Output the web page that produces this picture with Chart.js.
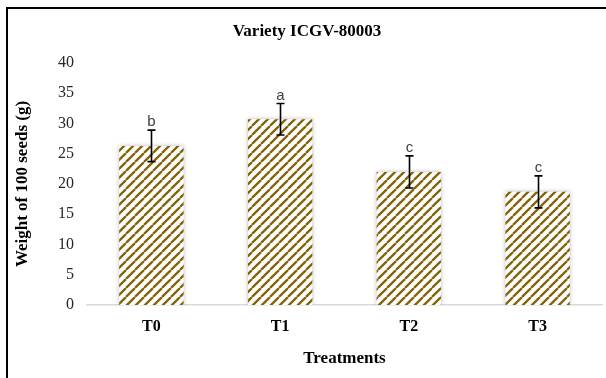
<!DOCTYPE html>
<html>
<head>
<meta charset="utf-8">
<script src="https://cdn.jsdelivr.net/npm/chart.js@4/dist/chart.umd.min.js"></script>
<style>
    html, body { margin: 0; padding: 0; background: #fff; overflow: hidden; }
    #wrap { position: relative; width: 606px; height: 378px; }
    #frame { position: absolute; left: 6px; top: 7px; width: 700px; height: 500px; border: 2px solid #000; }
    #chart { position: absolute; left: 0; top: 0; }
</style>
</head>
<body>
<div id="wrap">
    <div id="frame"></div>
    <canvas id="chart" width="606" height="378"></canvas>
</div>
<script>
const treatments = ['T0', 'T1', 'T2', 'T3'];
const seedWeight = [26.3, 30.7, 22.0, 18.7];
const seedError = [2.6, 2.6, 2.65, 2.65];
const groupLetters = ['b', 'a', 'c', 'c'];
const yMin = 0;
const yMax = 40;
const yStep = 5;

// diagonal hatch like Excel's "wide upward diagonal"
function makeHatch(color) {
    const size = 9;
    const tile = document.createElement('canvas');
    tile.width = size;
    tile.height = size;
    const t = tile.getContext('2d');
    t.fillStyle = '#fff';
    t.fillRect(0, 0, size, size);
    t.strokeStyle = color;
    t.lineWidth = 2.3;
    t.beginPath();
    for (let k = -1; k <= 1; k++) {
        t.moveTo(k * size, size);
        t.lineTo(k * size + size, 0);
    }
    t.stroke();
    return t.createPattern(tile, 'repeat');
}

const errorBars = {
    id: 'errorBars',
    beforeDatasetsDraw(chart) {
        const ctx = chart.ctx;
        ctx.save();
        ctx.shadowColor = 'rgba(0, 0, 0, 0.28)';
        ctx.shadowBlur = 4;
    },
    afterDatasetsDraw(chart) {
        const ctx = chart.ctx;
        ctx.restore();
        const y = chart.scales.y;
        const meta = chart.getDatasetMeta(0);
        ctx.save();
        ctx.strokeStyle = '#000';
        ctx.lineWidth = 1.6;
        ctx.font = '15px "Liberation Sans", Arial, sans-serif';
        ctx.fillStyle = '#404040';
        ctx.textAlign = 'center';
        ctx.textBaseline = 'alphabetic';
        meta.data.forEach((bar, i) => {
            const x = Math.round(bar.x) + 0.5;
            const top = y.getPixelForValue(seedWeight[i] + seedError[i]);
            const bottom = y.getPixelForValue(seedWeight[i] - seedError[i]);
            ctx.beginPath();
            ctx.moveTo(x, top);
            ctx.lineTo(x, bottom);
            ctx.moveTo(x - 4, top);
            ctx.lineTo(x + 4, top);
            ctx.moveTo(x - 4, bottom);
            ctx.lineTo(x + 4, bottom);
            ctx.stroke();
            ctx.fillText(groupLetters[i], x, top - 4);
        });
        ctx.restore();
    }
};

const ctx = document.getElementById('chart').getContext('2d');

new Chart(ctx, {
    type: 'bar',
    data: {
        labels: treatments,
        datasets: [{
            data: seedWeight,
            backgroundColor: makeHatch('#846408'),
            borderWidth: 0,
            categoryPercentage: 0.5,
            barPercentage: 1.0
        }]
    },
    options: {
        responsive: false,
        animation: false,
        layout: {
            padding: { top: 8, left: 12, right: 4, bottom: 0 }
        },
        plugins: {
            legend: { display: false },
            tooltip: { enabled: false },
            title: {
                display: true,
                text: 'Variety ICGV-80003',
                color: '#000',
                font: { family: '"Liberation Serif", "Times New Roman", serif', size: 17, weight: 'bold' },
                padding: { top: 13, bottom: 21.6 }
            }
        },
        scales: {
            x: {
                grid: { display: false, drawTicks: false },
                border: { display: true, color: '#d9d9d9', width: 1.5 },
                ticks: {
                    color: '#000',
                    padding: 12,
                    font: { family: '"Liberation Serif", "Times New Roman", serif', size: 16, weight: 'bold' }
                },
                title: {
                    display: true,
                    text: 'Treatments',
                    color: '#000',
                    font: { family: '"Liberation Serif", "Times New Roman", serif', size: 17, weight: 'bold' },
                    padding: { top: 0, bottom: 9 }
                },
                afterFit(axis) { axis.height = 73; }
            },
            y: {
                min: yMin,
                max: yMax,
                grid: { display: false, drawTicks: false },
                border: { display: false },
                ticks: {
                    stepSize: yStep,
                    color: '#262626',
                    padding: 13,
                    font: { family: '"Liberation Serif", "Times New Roman", serif', size: 16 }
                },
                title: {
                    display: true,
                    text: 'Weight of 100 seeds (g)',
                    color: '#000',
                    font: { family: '"Liberation Serif", "Times New Roman", serif', size: 17, weight: 'bold' },
                    padding: { top: 0, bottom: 0 }
                },
                afterFit(axis) { axis.width = 75; }
            }
        }
    },
    plugins: [errorBars]
});
</script>
</body>
</html>
